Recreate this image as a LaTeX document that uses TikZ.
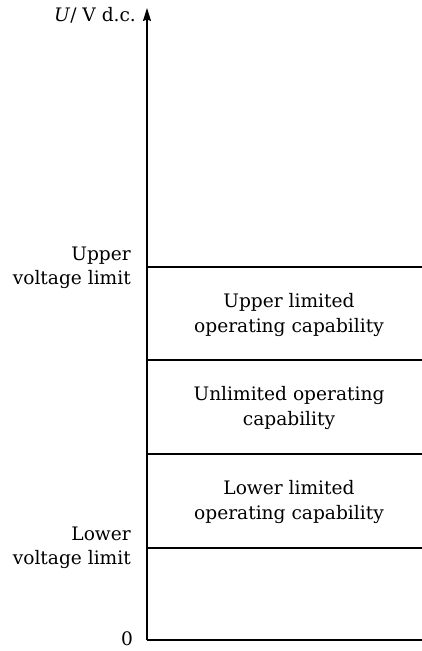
\documentclass[tikz,border=0pt]{standalone}
\usepackage{fontspec}
\setmainfont{DejaVu Serif}
\usetikzlibrary{arrows.meta}
\begin{document}
\begin{tikzpicture}[x=1pt,y=-1pt,
  lbl/.style={font=\fontsize{18.6}{24.5}\selectfont, inner sep=0pt},
  rl/.style={lbl, align=right, anchor=east},
  cl/.style={lbl, align=center},
  ln/.style={line width=1.2pt}]
\useasboundingbox (0,0) rectangle (422,651);
\coordinate (o) at (147,640);
\coordinate (top) at (147,8);
\coordinate (r0) at (422,640);
\coordinate (a1) at (147,548); \coordinate (b1) at (422,548);
\coordinate (a2) at (147,454); \coordinate (b2) at (422,454);
\coordinate (a3) at (147,360); \coordinate (b3) at (422,360);
\coordinate (a4) at (147,267); \coordinate (b4) at (422,267);
\draw[ln,-{Stealth[length=13pt,width=8pt,inset=1.5pt]}] (o) -- (top);
\draw[ln] (o) -- (r0);
\draw[ln] (a1) -- (b1);
\draw[ln] (a2) -- (b2);
\draw[ln] (a3) -- (b3);
\draw[ln] (a4) -- (b4);
\node[lbl] (ax) at (95,15) {\textit{U}/ V d.c.};
\node[rl] (up) at (131,268) {Upper\\voltage limit};
\node[rl] (lo) at (131,548) {Lower\\voltage limit};
\node[lbl] (z) at (127,639) {0};
\node[cl] (t1) at (289,315) {Upper limited\\operating capability};
\node[cl] (t2) at (289,408) {Unlimited operating\\capability};
\node[cl] (t3) at (289,502) {Lower limited\\operating capability};
\end{tikzpicture}
\end{document}
